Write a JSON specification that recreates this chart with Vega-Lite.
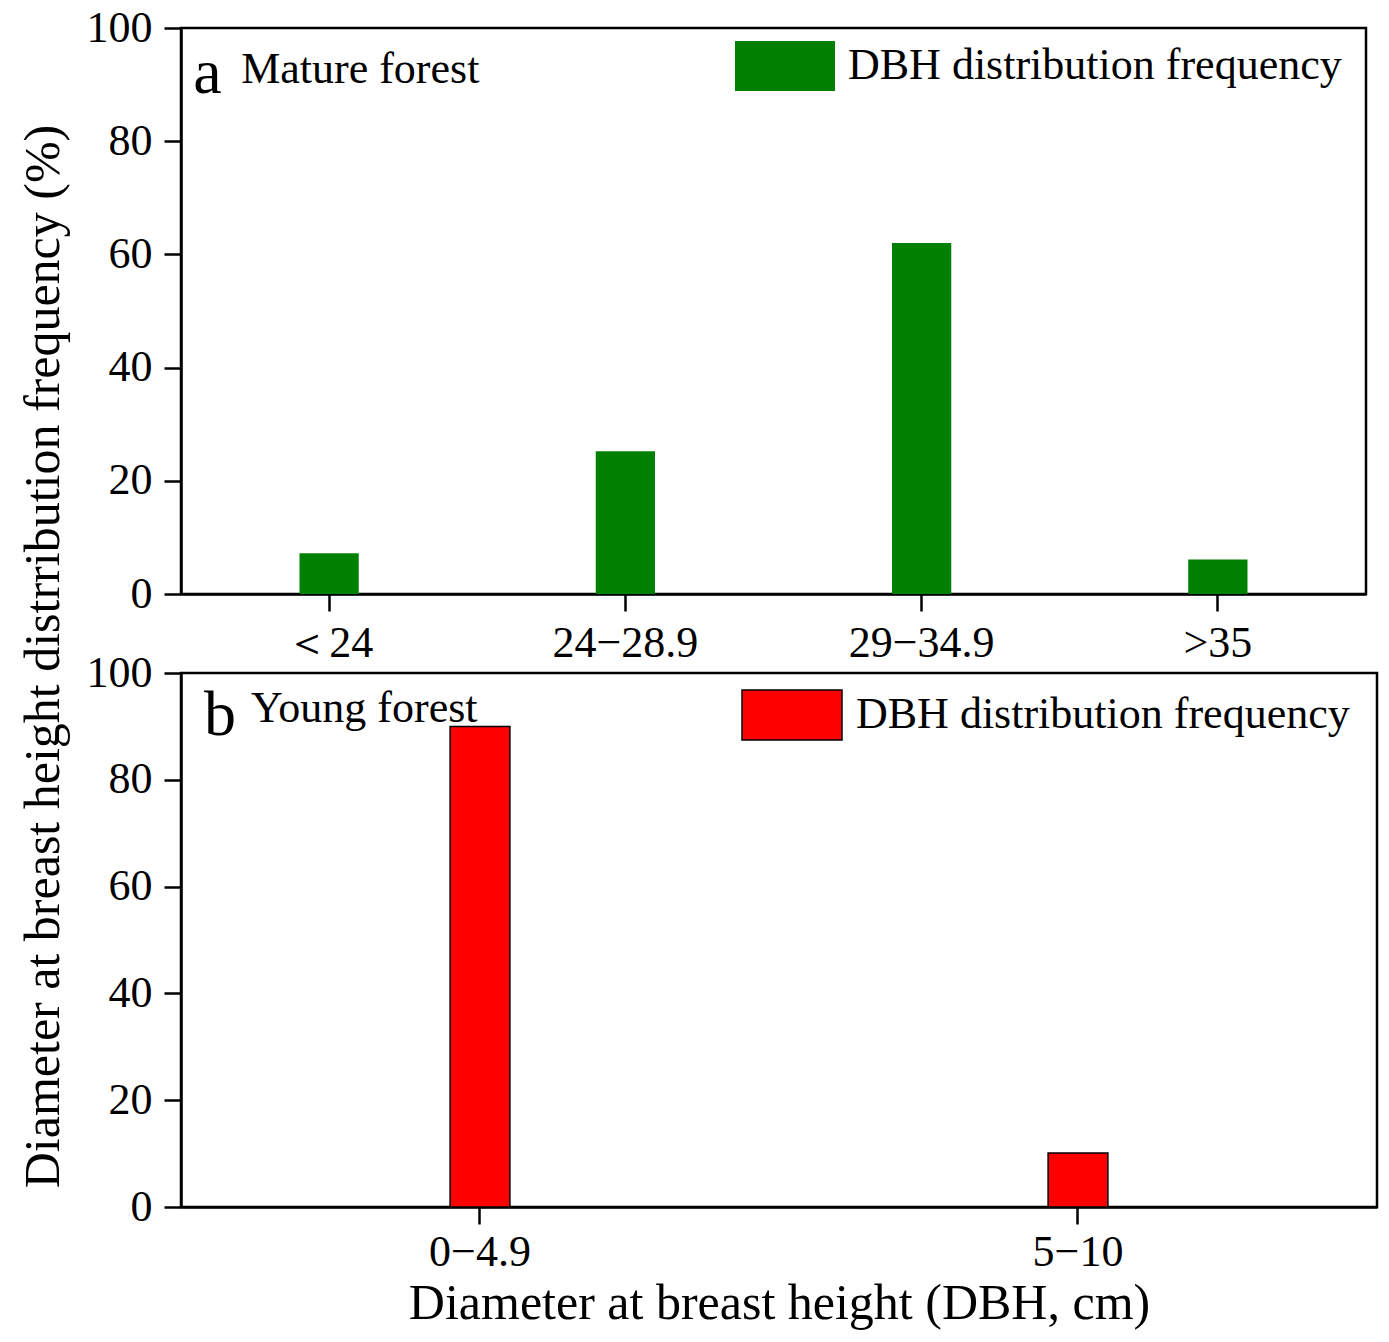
{
  "$schema": "https://vega.github.io/schema/vega-lite/v6.json",
  "background": "white",
  "padding": {"left": 16, "top": 4, "right": 5, "bottom": 5},
  "config": {
    "font": "Liberation Serif",
    "view": {"stroke": "black", "strokeWidth": 2.5},
    "axis": {
      "labelFont": "Liberation Serif", "labelFontSize": 44, "labelColor": "black",
      "titleFont": "Liberation Serif", "titleFontSize": 50, "titleFontWeight": "normal", "titleColor": "black",
      "domainColor": "black", "domainWidth": 2.5, "tickColor": "black", "tickWidth": 2.5, "tickSize": 17,
      "grid": false, "labelPadding": 10
    },
    "legend": {
      "labelFont": "Liberation Serif", "labelFontSize": 44, "labelColor": "black", "labelLimit": 0
    }
  },
  "spacing": 79,
  "bounds": "flush",
  "resolve": {
    "scale": {"color": "independent", "x": "independent", "y": "independent"},
    "legend": {"color": "independent"}
  },
  "vconcat": [
    {
      "width": 1185,
      "height": 566,
      "data": {"values": [
        {"dbh": "＜24", "freq": 7.2, "series": "DBH distribution frequency"},
        {"dbh": "24−28.9", "freq": 25.2, "series": "DBH distribution frequency"},
        {"dbh": "29−34.9", "freq": 62.0, "series": "DBH distribution frequency"},
        {"dbh": ">35", "freq": 6.1, "series": "DBH distribution frequency"}
      ]},
      "layer": [
        {
          "mark": {"type": "bar"},
          "encoding": {
            "x": {"field": "dbh", "type": "nominal", "sort": null,
                  "scale": {"paddingInner": 0.8, "paddingOuter": 0.4},
                  "axis": {"title": null, "labelAngle": 0, "labelPadding": 10}},
            "y": {"field": "freq", "type": "quantitative",
                  "scale": {"domain": [0, 100], "nice": false},
                  "axis": {"values": [0, 20, 40, 60, 80, 100], "labelPadding": 12,
                           "title": "Diameter at breast height distrribution frequency (%)",
                           "titleY": 628, "titlePadding": 18}},
            "color": {"field": "series", "type": "nominal",
                      "scale": {"range": ["#008000"]},
                      "legend": {"title": null, "orient": "none", "legendX": 554, "legendY": -12, "padding": 0,
                                 "symbolType": "M-1,-0.5H1V0.5H-1Z", "symbolSize": 10000,
                                 "symbolStrokeWidth": 0, "symbolOpacity": 1, "labelOffset": 13}}
          }
        },
        {
          "data": {"values": [{"tag": "a"}]},
          "mark": {"type": "text", "align": "left", "baseline": "alphabetic", "fontSize": 64, "dx": -136, "color": "black"},
          "encoding": {"x": {"datum": "＜24"}, "y": {"datum": 88.5}, "text": {"field": "tag"}}
        },
        {
          "data": {"values": [{"name": "Mature forest"}]},
          "mark": {"type": "text", "align": "left", "baseline": "alphabetic", "fontSize": 44, "dx": -88, "color": "black"},
          "encoding": {"x": {"datum": "＜24"}, "y": {"datum": 90.3}, "text": {"field": "name"}}
        }
      ]
    },
    {
      "width": 1196,
      "height": 534,
      "data": {"values": [
        {"dbh": "0−4.9", "freq": 90.0, "series": "DBH distribution frequency"},
        {"dbh": "5−10", "freq": 10.1, "series": "DBH distribution frequency"}
      ]},
      "layer": [
        {
          "mark": {"type": "bar", "stroke": "black", "strokeWidth": 1.5},
          "encoding": {
            "x": {"field": "dbh", "type": "nominal", "sort": null,
                  "scale": {"paddingInner": 0.9, "paddingOuter": 0.45},
                  "axis": {"title": "Diameter at breast height (DBH, cm)", "labelAngle": 0, "labelPadding": 6, "titlePadding": 4}},
            "y": {"field": "freq", "type": "quantitative",
                  "scale": {"domain": [0, 100], "nice": false},
                  "axis": {"values": [0, 20, 40, 60, 80, 100], "labelPadding": 12, "title": null}},
            "color": {"field": "series", "type": "nominal",
                      "scale": {"range": ["#ff0000"]},
                      "legend": {"title": null, "orient": "none", "legendX": 560, "legendY": -9, "padding": 0,
                                 "symbolType": "M-1,-0.5H1V0.5H-1Z", "symbolSize": 10000,
                                 "symbolStrokeColor": "black", "symbolStrokeWidth": 1.5, "symbolOpacity": 1, "labelOffset": 13}}
          }
        },
        {
          "data": {"values": [{"tag": "b"}]},
          "mark": {"type": "text", "align": "left", "baseline": "alphabetic", "fontSize": 64, "dx": -276, "color": "black"},
          "encoding": {"x": {"datum": "0−4.9"}, "y": {"datum": 88.4}, "text": {"field": "tag"}}
        },
        {
          "data": {"values": [{"name": "Young forest"}]},
          "mark": {"type": "text", "align": "left", "baseline": "alphabetic", "fontSize": 44, "dx": -229, "color": "black"},
          "encoding": {"x": {"datum": "0−4.9"}, "y": {"datum": 90.8}, "text": {"field": "name"}}
        }
      ]
    }
  ]
}
